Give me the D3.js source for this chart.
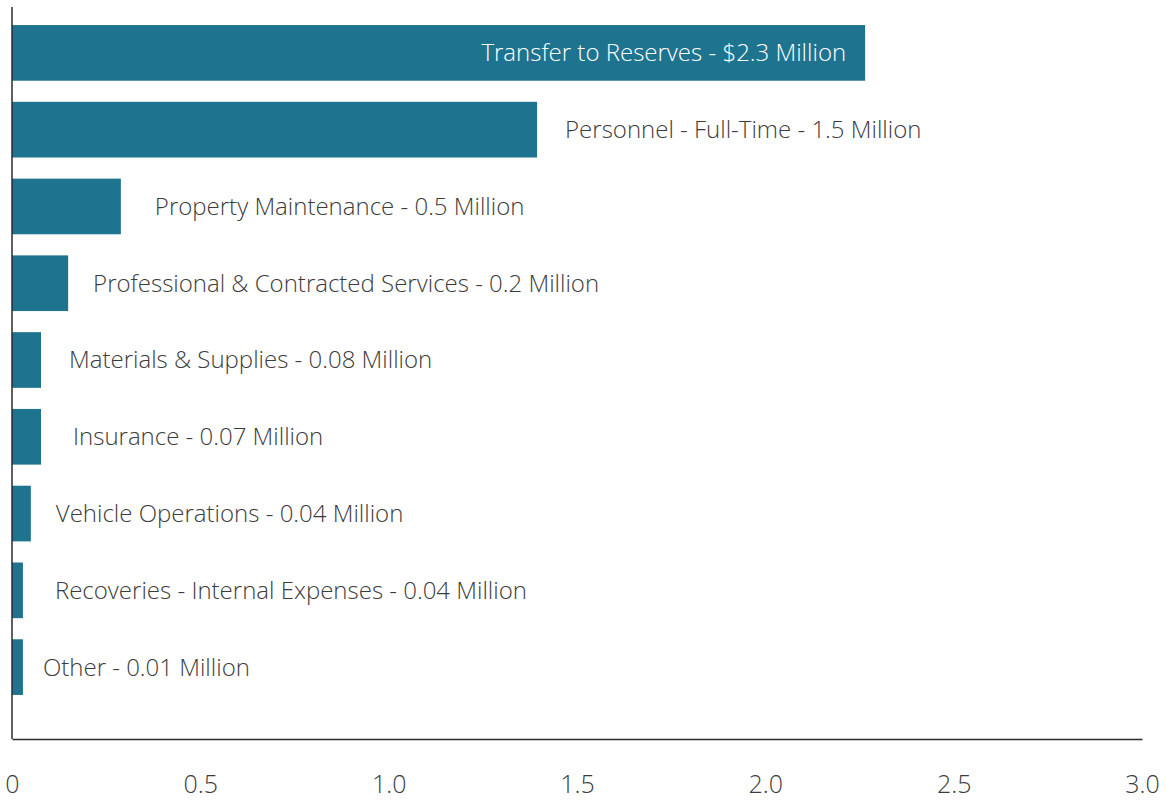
<!DOCTYPE html>
<html lang="en">
<head>
<meta charset="utf-8">
<title>Expenses</title>
<script src="https://d3js.org/d3.v7.min.js"></script>
<style>
  body { margin: 0; background: #fff; }
  text { font-family: "Open Sans", sans-serif; font-weight: 300; }
</style>
</head>
<body>
<div id="chart"></div>
<script>
// data
var categories = ["Transfer to Reserves", "Personnel - Full-Time", "Property Maintenance",
  "Professional & Contracted Services", "Materials & Supplies", "Insurance",
  "Vehicle Operations", "Recoveries - Internal Expenses", "Other"];
var values = [2.265, 1.394, 0.289, 0.149, 0.077, 0.077, 0.050, 0.029, 0.029];
var labels = ["Transfer to Reserves - $2.3 Million", "Personnel - Full-Time - 1.5 Million",
  "Property Maintenance - 0.5 Million", "Professional & Contracted Services - 0.2 Million",
  "Materials & Supplies - 0.08 Million", "Insurance - 0.07 Million",
  "Vehicle Operations - 0.04 Million", "Recoveries - Internal Expenses - 0.04 Million",
  "Other - 0.01 Million"];
var tickValues = [0, 0.5, 1.0, 1.5, 2.0, 2.5, 3.0];
var tickLabels = ["0", "0.5", "1.0", "1.5", "2.0", "2.5", "3.0"];

// layout: label gap after each bar (first one sits inside the bar)
var labelDx = [-19, 28, 34, 25, 28, 32, 25, 32, 20];

var w = 1166, h = 800;
var x0 = 12, x1 = 1142, axisY = 739;

var svg = d3.select("#chart").append("svg")
  .attr("width", w).attr("height", h);

var x = d3.scaleLinear().domain([0, 3]).range([x0, x1]);
var y = d3.scaleBand().domain(categories).range([14.5, 705.5])
  .paddingInner(0.275).paddingOuter(0.1375);

// bars
svg.selectAll("rect.bar")
  .data(categories)
  .enter().append("rect")
  .attr("class", "bar")
  .attr("x", x(0))
  .attr("y", function(d) { return y(d); })
  .attr("height", y.bandwidth())
  .attr("width", function(d, i) { return x(values[i]) - x(0); })
  .attr("fill", "#1e748f");

// labels
svg.selectAll("text.lbl")
  .data(categories)
  .enter().append("text")
  .attr("class", "lbl")
  .attr("x", function(d, i) { return x(values[i]) + labelDx[i]; })
  .attr("y", function(d) { return y(d) + y.bandwidth() / 2; })
  .attr("dy", "0.35em")
  .attr("text-anchor", function(d, i) { return i === 0 ? "end" : "start"; })
  .attr("fill", function(d, i) { return i === 0 ? "#ffffff" : "#3c3c3c"; })
  .attr("font-size", 24)
  .text(function(d, i) { return labels[i]; });

// x axis
var xAxis = d3.axisBottom(x)
  .tickValues(tickValues)
  .tickSize(0)
  .tickPadding(36)
  .tickFormat(function(d, i) { return tickLabels[i]; });

var gx = svg.append("g")
  .attr("transform", "translate(0," + axisY + ")")
  .call(xAxis);
gx.select(".domain").attr("stroke", "#2b2b2b").attr("stroke-width", 1.5);
gx.selectAll("text")
  .attr("font-size", 25)
  .attr("fill", "#3c3c3c")
  .style("font-family", "'Open Sans', sans-serif")
  .style("font-weight", 300);

// left axis line
svg.append("line")
  .attr("x1", x0).attr("x2", x0)
  .attr("y1", 7).attr("y2", axisY)
  .attr("stroke", "#2b2b2b").attr("stroke-width", 1.5);
</script>
</body>
</html>
